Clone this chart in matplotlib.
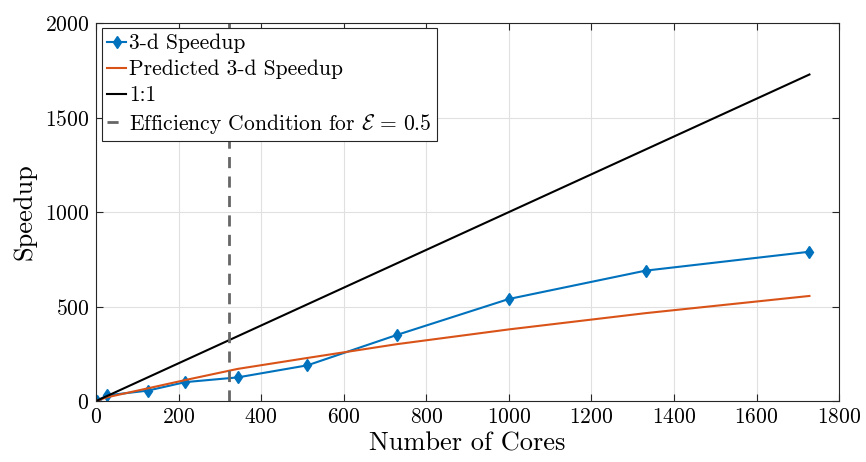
import matplotlib
matplotlib.use("Agg")
import matplotlib.pyplot as plt

cores = [1, 27, 125, 216, 343, 512, 729, 1000, 1331, 1728]
speedup = [1, 30, 55, 100, 125, 189, 350, 540, 690, 790]
predicted = [1, 20, 67, 111, 170, 228, 301, 379, 465, 556]
efficiency_x = 322
xticks = [0, 200, 400, 600, 800, 1000, 1200, 1400, 1600, 1800]
yticks = [0, 500, 1000, 1500, 2000]

plt.rcParams['font.family'] = 'serif'
plt.rcParams['font.serif'] = ['cmr10', 'DejaVu Serif']
plt.rcParams['mathtext.fontset'] = 'cm'
plt.rcParams['axes.formatter.use_mathtext'] = True

fig = plt.figure(figsize=(8.66, 4.62), dpi=100)
ax = fig.add_axes([0.111, 0.132, 0.858, 0.818])

ax.plot(cores, speedup, color='#0072BD', marker='d', markersize=6.5, lw=1.5, label='3-d Speedup')
ax.plot(cores, predicted, color='#D95319', lw=1.5, label='Predicted 3-d Speedup')
ax.plot([0, cores[-1]], [0, cores[-1]], color='black', lw=1.5, label='1:1')
ax.axvline(efficiency_x, color='#666666', lw=2, ls=(0, (4, 3)),
           label=r'Efficiency Condition for $\mathcal{E}\,=\,0.5$')

ax.set_xlim(0, 1800)
ax.set_ylim(0, 2000)
ax.set_xticks(xticks)
ax.set_yticks(yticks)
ax.tick_params(direction='in', top=True, right=True, labelsize=15.5, length=5, color='#262626', pad=5)
ax.grid(True, color='#e0e0e0', lw=0.8)
ax.set_axisbelow(True)
for s in ax.spines.values():
    s.set_color('#262626')
    s.set_linewidth(0.8)

ax.set_xlabel('Number of Cores', fontsize=19, labelpad=3)
ax.set_ylabel('Speedup', fontsize=19, labelpad=6)

leg = ax.legend(loc='upper left', fontsize=15.5, handlelength=0.9, handletextpad=0.15,
                borderpad=0.25, labelspacing=0.3, fancybox=False, framealpha=1,
                edgecolor='#262626', borderaxespad=0.25)
leg.get_frame().set_linewidth(0.8)

fig.savefig('out.png', dpi=100)
